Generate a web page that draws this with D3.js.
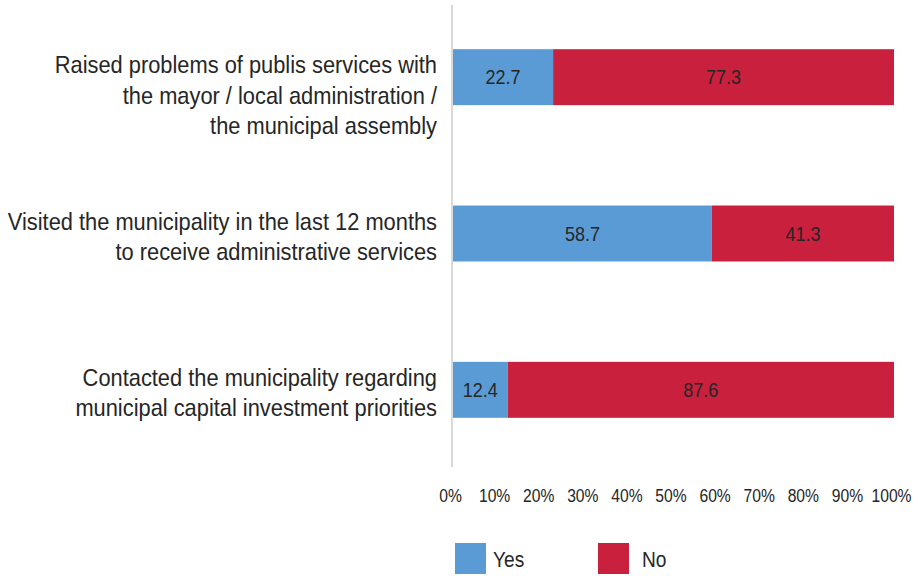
<!DOCTYPE html>
<html>
<head>
<meta charset="utf-8">
<script src="https://cdn.jsdelivr.net/npm/d3@7"></script>
<style>
  html, body { margin: 0; padding: 0; background: #ffffff; }
  svg { display: block; }
  text { font-family: "Liberation Sans", Arial, sans-serif; fill: #262626; }
</style>
</head>
<body>
<svg id="chart" width="913" height="576"></svg>
<script>
// Survey items (each label split into its printed lines)
const categories = [
  ["Raised problems of publis services with", "the mayor / local administration /", "the municipal assembly"],
  ["Visited the municipality in the last 12 months", "to receive administrative services"],
  ["Contacted the municipality regarding", "municipal capital investment priorities"]
];
const yesValues = [22.7, 58.7, 12.4];
const noValues = [77.3, 41.3, 87.6];
const seriesNames = ["Yes", "No"];
const seriesColors = ["#5b9bd5", "#c8203d"];
const tickValues = [0, 10, 20, 30, 40, 50, 60, 70, 80, 90, 100];

// The typeface is a condensed grotesque; squeeze glyphs horizontally
const narrow = 0.91;

const svg = d3.select("#chart");
const keys = categories.map((c, i) => "c" + i);

const x = d3.scaleLinear().domain([0, 100]).range([453, 894]);
const y = d3.scaleBand().domain(keys).range([-1, 468]).paddingInner(0.642).paddingOuter(0.321);
const color = d3.scaleOrdinal().domain(seriesNames).range(seriesColors);

// Stack Yes/No into 100% bars
const rows = keys.map((k, i) => ({ key: k, Yes: yesValues[i], No: noValues[i] }));
const stacked = d3.stack().keys(seriesNames)(rows);

const layers = svg.append("g").selectAll("g")
  .data(stacked).join("g")
  .attr("fill", d => color(d.key));

layers.selectAll("rect")
  .data(d => d.map(p => ({ p, series: d.key })))
  .join("rect")
  .attr("x", d => x(d.p[0]))
  .attr("width", d => x(d.p[1]) - x(d.p[0]))
  .attr("y", d => y(d.p.data.key))
  .attr("height", y.bandwidth());

// Value labels centred in each segment
layers.selectAll("text")
  .data(d => d.map(p => ({ p, series: d.key })))
  .join("text")
  .attr("transform", d => `translate(${(x(d.p[0]) + x(d.p[1])) / 2},${y(d.p.data.key) + y.bandwidth() / 2}) scale(0.9,1)`)
  .attr("dy", "0.36em")
  .attr("text-anchor", "middle")
  .attr("font-size", 20)
  .text(d => d.p.data[d.series].toFixed(1));

// Vertical category axis line
svg.append("line")
  .attr("x1", 452).attr("x2", 452)
  .attr("y1", 5).attr("y2", 467)
  .attr("stroke", "#d9d9d9").attr("stroke-width", 2);

// Category labels, right-aligned next to the axis
const catLabels = svg.append("g").selectAll("text")
  .data(categories.map((lines, i) => ({ lines, key: keys[i] })))
  .join("text")
  .attr("text-anchor", "end")
  .attr("font-size", 24)
  .attr("transform", d => `translate(437,${y(d.key) + y.bandwidth() / 2 - 4}) scale(${narrow},1)`);

catLabels.selectAll("tspan")
  .data(d => d.lines)
  .join("tspan")
  .attr("x", 0)
  .attr("dy", (d, i) => i === 0 ? 0 : 30.5)
  .text(d => d);

// Percentage axis along the bottom
const xAxis = d3.axisBottom(x)
  .tickValues(tickValues)
  .tickFormat(d => d + "%")
  .tickSize(0);

const gx = svg.append("g").attr("transform", "translate(-3,480)").call(xAxis);
gx.select(".domain").remove();
gx.selectAll("text")
  .attr("y", 22)
  .attr("dy", 0)
  .attr("font-size", 18)
  .attr("font-family", null)
  .attr("transform", "scale(0.87,1)")
  .style("fill", "#262626");

// Legend
const legendX = [455, 598];
const legend = svg.append("g").selectAll("g")
  .data(seriesNames).join("g")
  .attr("transform", (d, i) => `translate(${legendX[i]},543)`);
legend.append("rect")
  .attr("width", 31).attr("height", 31)
  .attr("fill", d => color(d));
legend.append("text")
  .attr("transform", (d, i) => `translate(${i === 0 ? 38 : 44},24) scale(0.87,1)`)
  .attr("font-size", 22)
  .text(d => d);
</script>
</body>
</html>
